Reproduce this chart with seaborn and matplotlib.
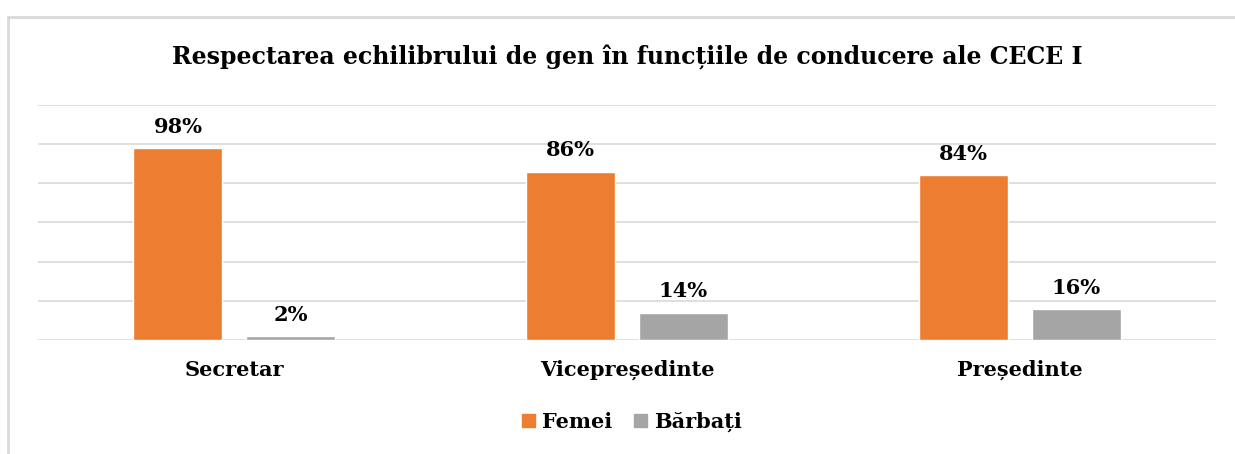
import matplotlib
matplotlib.use("Agg")
import matplotlib.pyplot as plt
import matplotlib.patches as mpatches
import pandas as pd
import seaborn as sns

categories = ["Secretar", "Vicepreședinte", "Președinte"]
femei = [98, 86, 84]
barbati = [2, 14, 16]
series = ["Femei", "Bărbați"]
colors = ["#ED7D31", "#A5A5A5"]

df = pd.DataFrame({
    "functie": categories * 2,
    "gen": [series[0]] * 3 + [series[1]] * 3,
    "procent": femei + barbati,
})

sns.set_style("white")
plt.rcParams["font.family"] = ["DejaVu Serif"]
plt.rcParams["font.weight"] = "bold"
plt.rcParams["text.color"] = "black"
plt.rcParams["xtick.color"] = "black"

fig = plt.figure(figsize=(12.35, 4.54), dpi=100)
ax = fig.add_axes([38 / 1235, 114 / 454, 1178 / 1235, 235 / 454])

sns.barplot(data=df, x="functie", y="procent", hue="gen", palette=colors,
            width=0.575, gap=0.21, ax=ax, legend=True, saturation=1)

ax.set_ylim(0, 120)
ax.set_yticks(range(0, 121, 20))
ax.yaxis.grid(True, color="#D9D9D9", linewidth=1.2)
ax.set_axisbelow(True)
ax.tick_params(axis="y", left=False, labelleft=False)
ax.tick_params(axis="x", bottom=False, labelsize=15, pad=11)
for lbl in ax.get_xticklabels():
    lbl.set_fontweight("bold")
for s in ax.spines.values():
    s.set_visible(False)
ax.set_xlabel("")
ax.set_ylabel("")

for cont in ax.containers:
    ax.bar_label(cont, fmt="%d%%", padding=8, fontsize=15, fontweight="bold")

ax.legend_.remove()
handles = [mpatches.Patch(color=c, label=s) for c, s in zip(colors, series)]
fig.legend(handles=handles, loc="center", bbox_to_anchor=(632 / 1235, 1 - 422 / 454),
           ncol=2, frameon=False, handlelength=0.6, handleheight=0.6,
           columnspacing=1.05, handletextpad=0.35, prop={"weight": "bold", "size": 15})

fig.text(627 / 1235, 1 - 57 / 454, "Respectarea echilibrului de gen în funcțiile de conducere ale CECE I",
         ha="center", va="center", fontsize=17, fontweight="bold")

border = mpatches.Rectangle((8 / 1235, -0.1), 1.2, 1 - 17 / 454 + 0.1, transform=fig.transFigure,
                            fill=False, edgecolor="#D9D9D9", linewidth=2)
fig.patches.append(border)

fig.savefig("out.png", dpi=100)
